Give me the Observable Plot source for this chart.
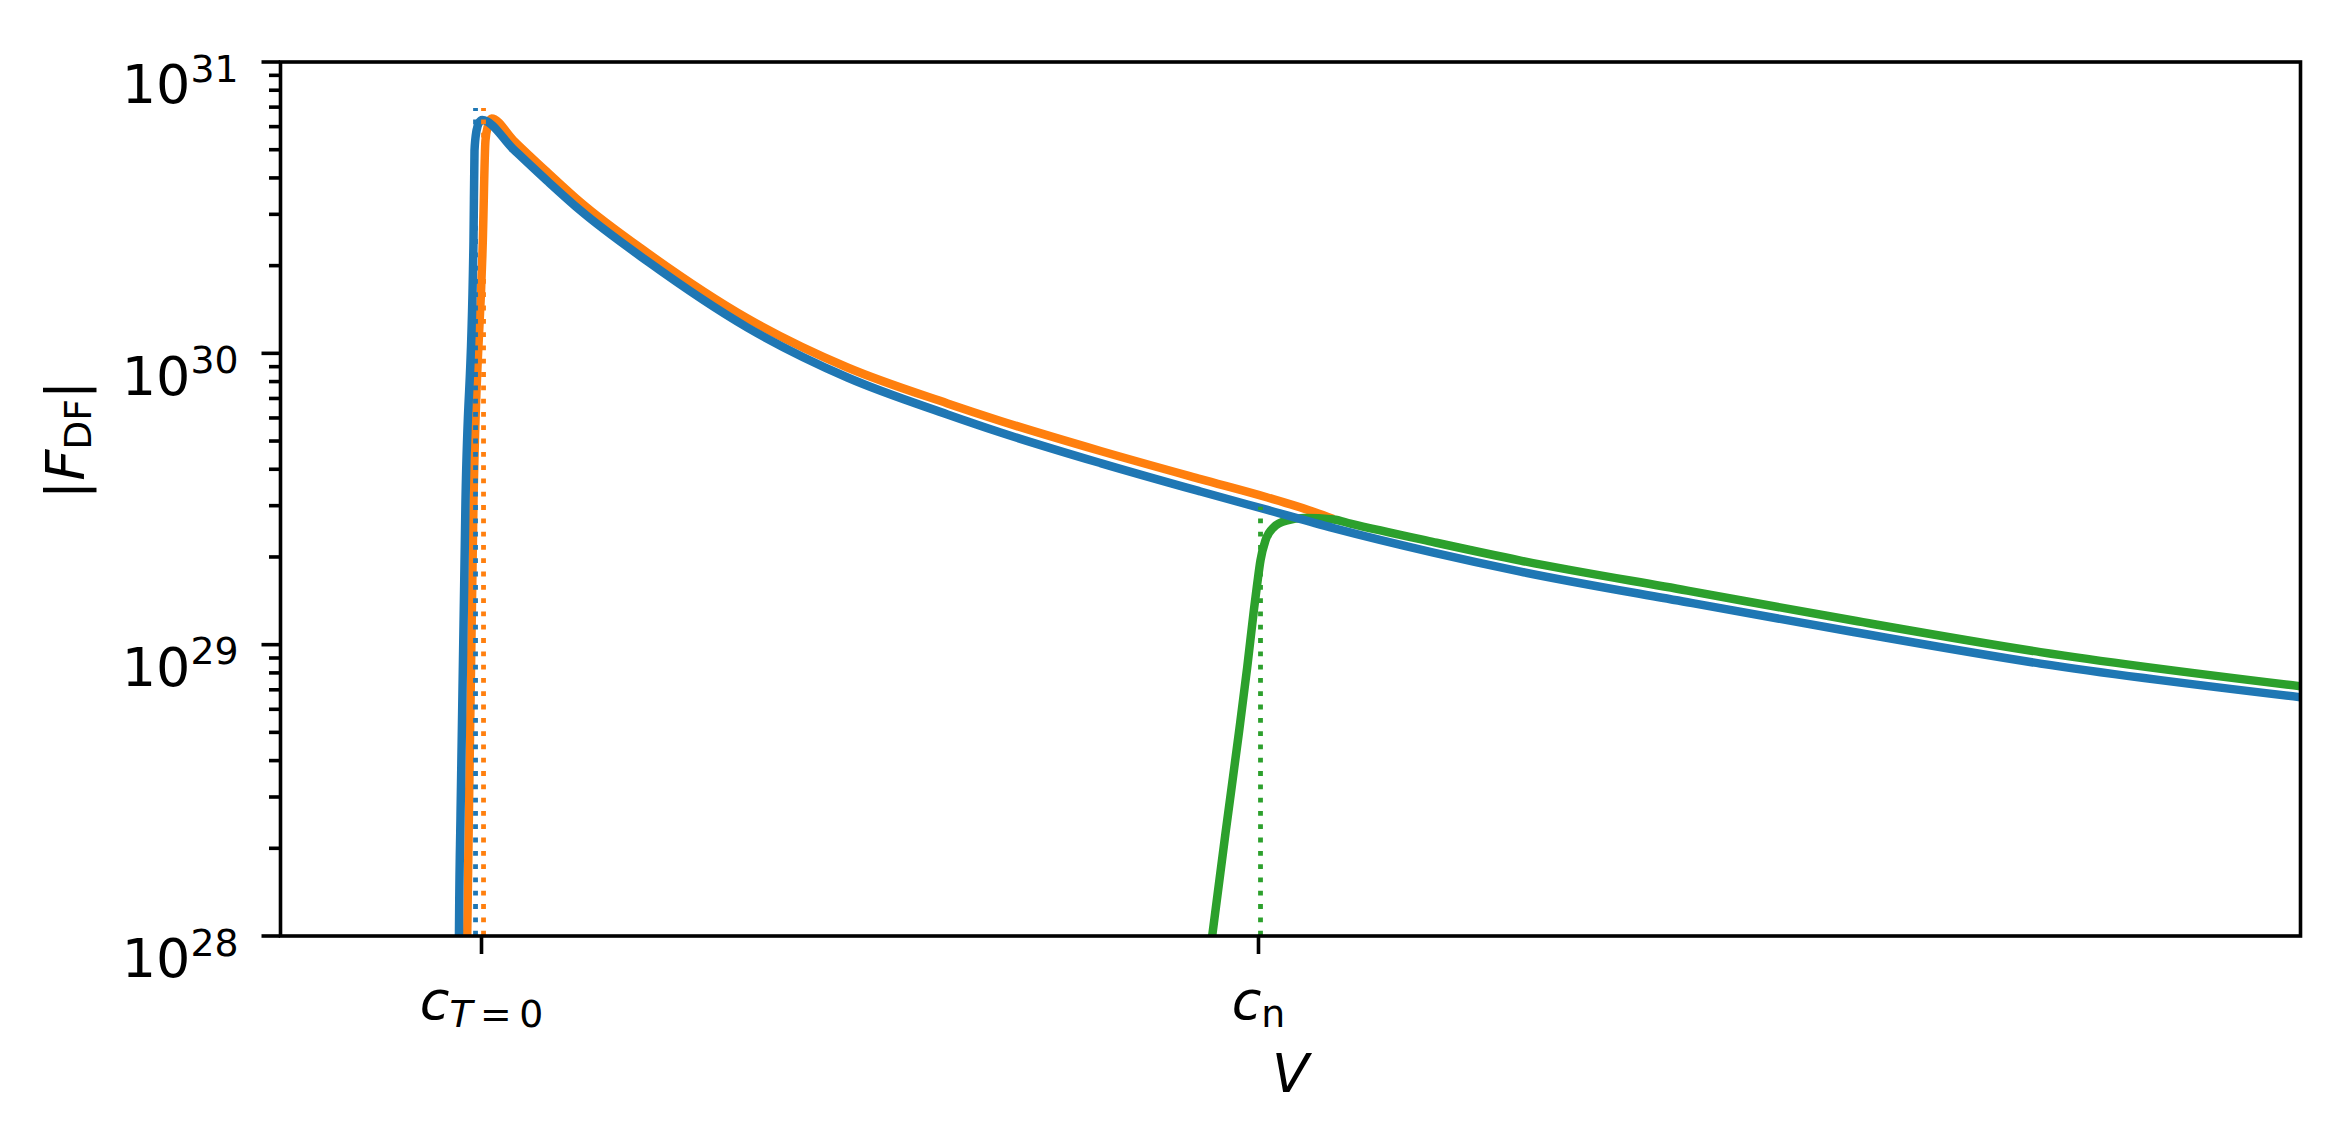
<!DOCTYPE html>
<html>
<head>
<meta charset="utf-8">
<script src="https://cdn.jsdelivr.net/npm/d3@7"></script>
<script src="https://cdn.jsdelivr.net/npm/@observablehq/plot@0.6"></script>
<style>
  html, body { margin: 0; padding: 0; background: #ffffff; }
  #chart { width: 2341px; height: 1145px; }
  svg { display: block; }
</style>
</head>
<body>
<div id="chart"></div>
<script>
// ---- data ----
// x in units where c_{T=0} = 1 and c_n = 2
const blueV = [0.9708, 0.9710, 0.9730, 0.9794, 0.9897, 0.9910, 0.9936, 0.9968, 1.0009, 1.0412, 1.0849, 1.1274, 1.2136, 1.3423, 1.4710, 1.5997, 1.6680, 1.7967, 1.9254, 2.0116, 2.0965, 2.2252, 2.3372, 2.5521, 2.7658, 3.0064, 3.3411];
const blueF = [8.2e27, 1.0e28, 2.61e28, 3.12e29, 2.44e30, 4.97e30, 5.82e30, 6.19e30, 6.32e30, 5.01e30, 3.90e30, 3.09e30, 2.07e30, 1.226e30, 8.26e29, 6.17e29, 5.35e29, 4.20e29, 3.355e29, 2.90e29, 2.513e29, 2.071e29, 1.782e29, 1.398e29, 1.105e29, 8.61e28, 6.60e28];

const orangeV = [0.9811, 0.9816, 0.9897, 1.0017, 1.0051, 1.0084, 1.0129, 1.0412, 1.0849, 1.1274, 1.2136, 1.3423, 1.4710, 1.5997, 1.6680, 1.7967, 1.9254, 2.0116, 2.0640, 2.0965];
const orangeF = [8.2e27, 1.0e28, 3.12e29, 2.44e30, 5.38e30, 6.05e30, 6.40e30, 5.38e30, 4.18e30, 3.30e30, 2.21e30, 1.317e30, 8.94e29, 6.73e29, 5.86e29, 4.62e29, 3.70e29, 3.20e29, 2.90e29, 2.70e29];

const greenV = [1.9363, 1.9404, 1.9575, 1.9746, 1.9855, 1.9940, 1.9984, 2.0026, 2.0090, 2.0197, 2.0370, 2.0583, 2.0965, 2.1184, 2.2252, 2.3372, 2.5521, 2.7658, 3.0064, 3.3411];
const greenF = [8.2e27, 1.0e28, 2.25e28, 4.94e28, 8.36e28, 1.31e29, 1.62e29, 1.95e29, 2.28e29, 2.53e29, 2.67e29, 2.72e29, 2.689e29, 2.604e29, 2.250e29, 1.944e29, 1.533e29, 1.210e29, 9.43e28, 7.20e28];

// dotted vertical markers: blue, orange, green
const dotV = [0.9923, 1.0026, 2.0026];
const dotTop = [6.92e30, 6.92e30, 2.96e29];
const dotBottom = 1e28;

const xDomain = [0.7413, 3.3411];
const yDomain = [1e28, 1e31];
const yMajor = [1e28, 1e29, 1e30, 1e31];
const yMinor = [];
for (let k = 28; k < 31; k++) for (let m = 2; m <= 9; m++) yMinor.push(m * Math.pow(10, k));
const xTicks = [1, 2];
const xTickLabels = ["cT0", "cn"];

const colors = { blue: "#1f77b4", orange: "#ff7f0e", green: "#2ca02c" };
const dotColors = [colors.blue, colors.orange, colors.green];

const rows = (V, F) => V.map((v, i) => ({ V: v, F: F[i] }));

const lineW = 8.5;
const axisW = 3.6;
const fs = 54;

const dottedMarks = dotV.map((v, i) =>
  Plot.ruleX([v], {
    x: d => d, y1: dotBottom, y2: dotTop[i],
    stroke: dotColors[i], strokeWidth: 4.8, strokeDasharray: "4.8,8.5", clip: true
  })
);

const lineOpts = (stroke) => ({ x: "V", y: "F", stroke, strokeWidth: lineW, curve: "monotone-x", clip: true, strokeLinejoin: "round", strokeLinecap: "butt" });

const chart = Plot.plot({
  width: 2341,
  height: 1145,
  marginLeft: 280,
  marginRight: 41,
  marginTop: 61.5,
  marginBottom: 209.5,
  style: { fontFamily: "'DejaVu Sans', sans-serif", fontSize: fs + "px", background: "#ffffff", color: "#000000" },
  x: { domain: xDomain },
  y: { type: "log", domain: yDomain },
  marks: [
    Plot.line(rows(orangeV, orangeF), lineOpts(colors.orange)),
    Plot.line(rows(greenV, greenF), lineOpts(colors.green)),
    Plot.line(rows(blueV, blueF), lineOpts(colors.blue)),
    ...dottedMarks,
    Plot.axisY({ ticks: yMinor, tickSize: 11, strokeWidth: axisW, fill: "none", label: null }),
    Plot.axisY({ ticks: yMajor, tickSize: 18.5, tickPadding: 23.5, strokeWidth: axisW,
      tickFormat: d => "10^" + Math.round(Math.log10(d)), label: null, fontSize: fs }),
    Plot.axisX({ ticks: xTicks, tickSize: 18.5, tickPadding: 25.7, strokeWidth: axisW,
      tickFormat: (d, i) => xTickLabels[xTicks.indexOf(d)], label: null, fontSize: fs }),
    Plot.frame({ stroke: "#000000", strokeWidth: axisW }),
    Plot.text(["V"], { text: d => d, frameAnchor: "bottom", dy: 156, fontStyle: "italic", fontSize: fs }),
    Plot.text(["|F_DF|"], { text: d => d, frameAnchor: "left", rotate: -90, dx: -213.3, fontSize: fs })
  ]
});

document.getElementById("chart").appendChild(chart);

// ---- rich text (superscripts / subscripts / italics) ----
const subFs = 37.8;
d3.select(chart).selectAll("text").each(function () {
  const t = this.textContent;
  const sel = d3.select(this);
  let m;
  if ((m = /^10\^(\d+)$/.exec(t))) {
    sel.text(null);
    sel.attr("dy", "24");
    sel.append("tspan").text("10");
    sel.append("tspan").attr("font-size", subFs + "px").attr("dy", -21.6).text(m[1]);
  } else if (t === "cT0") {
    sel.text(null);
    sel.append("tspan").attr("font-style", "italic").text("c");
    sel.append("tspan").attr("font-size", subFs + "px").attr("dy", 8.5).attr("font-style", "italic").text("T");
    sel.append("tspan").attr("font-size", subFs + "px").text("\u2009=\u20090");
  } else if (t === "cn") {
    sel.text(null);
    sel.append("tspan").attr("font-style", "italic").text("c");
    sel.append("tspan").attr("font-size", subFs + "px").attr("dy", 8.5).text("n");
  } else if (t === "|F_DF|") {
    sel.text(null);
    sel.append("tspan").text("|");
    sel.append("tspan").attr("font-style", "italic").text("F");
    sel.append("tspan").attr("font-size", subFs + "px").attr("dy", 7).text("DF");
    sel.append("tspan").attr("dy", -7).text("|");
  }
});
</script>
</body>
</html>
